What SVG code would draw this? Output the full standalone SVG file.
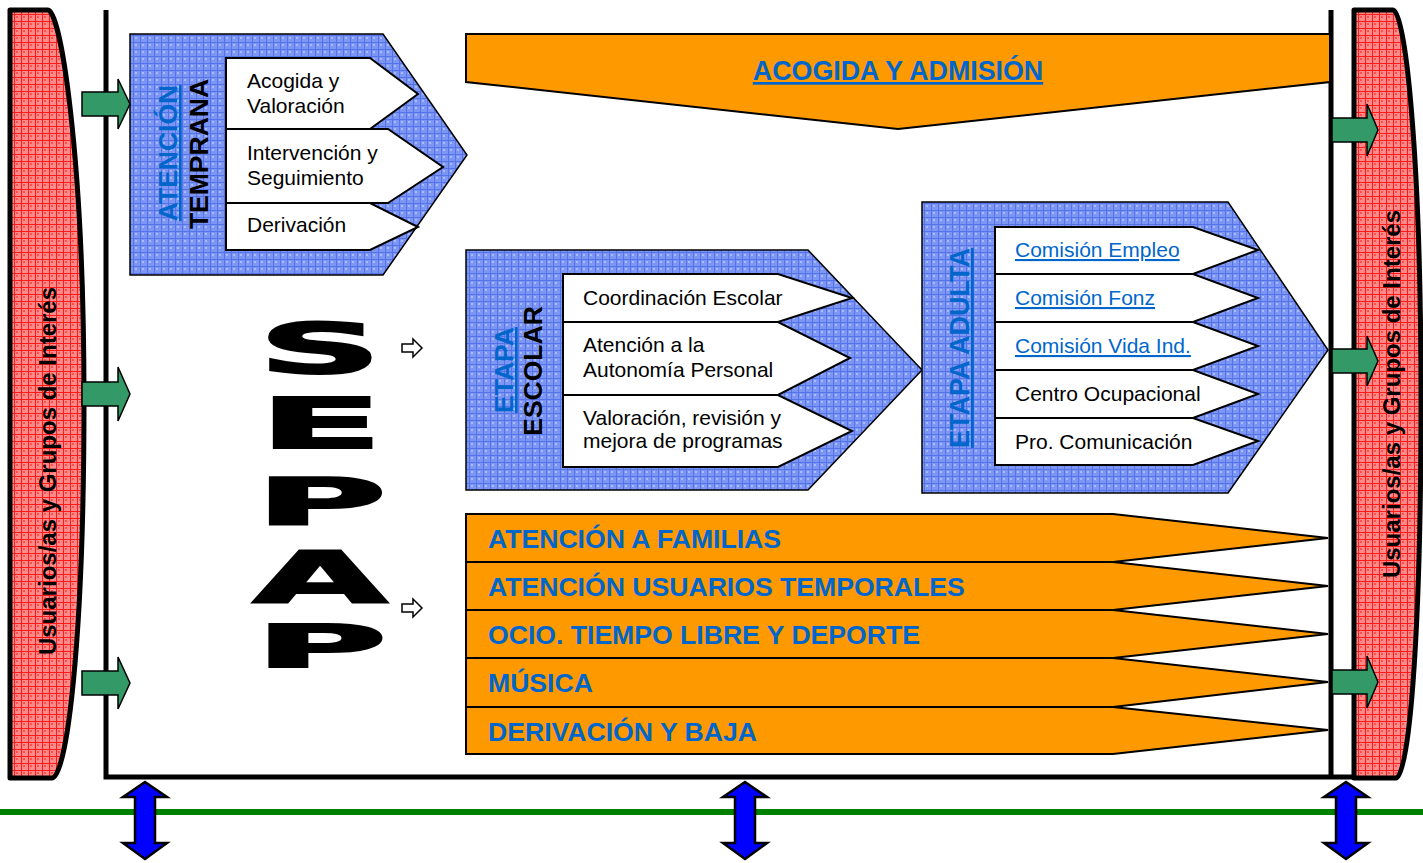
<svg xmlns="http://www.w3.org/2000/svg" width="1423" height="863" viewBox="0 0 1423 863">
<defs>
<pattern id="redpat" width="7" height="7" patternUnits="userSpaceOnUse">
<rect width="7" height="7" fill="#ff8a8a"/>
<rect x="2" y="2" width="2" height="2" fill="#ff5050"/>
<path d="M0 0.5H7M0.5 0V7" stroke="#ff1a1a" stroke-width="1"/>
</pattern>
<pattern id="bluepat" width="7" height="7" patternUnits="userSpaceOnUse">
<rect width="7" height="7" fill="#7d96f3"/>
<rect x="2" y="2" width="2" height="2" fill="#a9bbff"/>
<path d="M0 0.5H7M0.5 0V7" stroke="#5574ea" stroke-width="1"/>
</pattern>
<style>
.red{fill:url(#redpat);stroke:#000;stroke-width:5;stroke-linejoin:round}
.blk{fill:url(#bluepat);stroke:#000;stroke-width:1.5}
.wa{fill:#fff;stroke:#000;stroke-width:2}
.or{fill:#ff9900;stroke:#000;stroke-width:2}
.ga{fill:#339966;stroke:#000;stroke-width:1.5}
.ba{fill:#0000ff;stroke:#000;stroke-width:2.5}
.sa{fill:#fff;stroke:#000;stroke-width:1.5}
.frame{stroke:#000;stroke-width:5;fill:none}
.t{font-family:"Liberation Sans",Arial,sans-serif;font-size:21px;fill:#000}
.lk{font-family:"Liberation Sans",Arial,sans-serif;font-size:21px;fill:#0066cc;text-decoration:underline}
.vt{font-family:"Liberation Sans",Arial,sans-serif;font-size:26.5px;font-weight:bold;text-anchor:middle}
.bb{font-family:"Liberation Sans",Arial,sans-serif;font-size:26.6px;font-weight:bold;fill:#0066cc}
.big{font-family:"DejaVu Sans",sans-serif;font-weight:bold;fill:#000;stroke:#000;stroke-width:2;text-anchor:middle}
</style>
</defs>
<rect width="1423" height="863" fill="#fff"/>

<g id="users-left">
<path class="red" d="M10,10 L48,10 C60,10 84,150 84,400 C84,650 66,778 52,778 L10,778 Z"/>
<text class="vt" transform="translate(56,471) rotate(-90)" style="font-size:24px">Usuarios/as y Grupos de Interés</text>
</g>
<g id="users-right">
<path class="red" d="M1354,10 L1393,10 C1405,10 1421,150 1421,400 C1421,650 1408,778 1396,778 L1354,778 Z"/>
<text class="vt" transform="translate(1400,394) rotate(-90)" style="font-size:24px">Usuarios/as y Grupos de Interés</text>
</g>

<g id="frame">
<path class="frame" d="M106,10 V777 H1356"/>
<path class="frame" d="M1331,10 V777"/>
</g>

<g id="acogida">
<polygon class="or" points="466,34 1330,34 1330,82 898,129 466,82"/>
<text class="bb" x="898" y="80" text-anchor="middle" style="font-size:26.8px;text-decoration:underline">ACOGIDA Y ADMISIÓN</text>
</g>

<g id="atencion-temprana">
<polygon class="blk" points="130,34 383,34 467,155 383,275 130,275"/>
<polygon class="wa" points="226,58 370,58 418,94 370,129 226,129"/>
<polygon class="wa" points="226,129 388,129 443,167 388,203 226,203"/>
<polygon class="wa" points="226,203 370,203 418,227 370,250 226,250"/>
<text class="vt" fill="#0066cc" text-decoration="underline" transform="translate(177,153) rotate(-90)">ATENCIÓN</text>
<text class="vt" fill="#000" transform="translate(208,154) rotate(-90)">TEMPRANA</text>
<text class="t" x="247" y="88">Acogida y</text>
<text class="t" x="247" y="113">Valoración</text>
<text class="t" x="247" y="160">Intervención y</text>
<text class="t" x="247" y="185">Seguimiento</text>
<text class="t" x="247" y="232">Derivación</text>
</g>

<g id="sepap">
<text class="big" transform="translate(320,373) scale(2.45,1)" style="font-size:70px">S</text>
<text class="big" transform="translate(321,448) scale(2.6,1)" style="font-size:70px">E</text>
<text class="big" transform="translate(321,524) scale(2.8,1)" style="font-size:64px">P</text>
<text class="big" transform="translate(320,602) scale(2.45,1)" style="font-size:71px">A</text>
<text class="big" transform="translate(321,667) scale(3.1,1)" style="font-size:58px">P</text>
</g>

<g id="etapa-escolar">
<polygon class="blk" points="466,250 808,250 922,370 808,490 466,490"/>
<polygon class="wa" points="563,274 778,274 852,298 778,322 563,322"/>
<polygon class="wa" points="563,322 778,322 850,358 778,395 563,395"/>
<polygon class="wa" points="563,395 778,395 852,431 778,467 563,467"/>
<text class="vt" fill="#0066cc" text-decoration="underline" transform="translate(513,370) rotate(-90)">ETAPA</text>
<text class="vt" fill="#000" transform="translate(542,371) rotate(-90)">ESCOLAR</text>
<text class="t" x="583" y="305">Coordinación Escolar</text>
<text class="t" x="583" y="352">Atención a la</text>
<text class="t" x="583" y="377">Autonomía Personal</text>
<text class="t" x="583" y="425">Valoración, revisión y</text>
<text class="t" x="583" y="448">mejora de programas</text>
</g>

<g id="etapa-adulta">
<polygon class="blk" points="922,202 1228,202 1328,350 1228,493 922,493"/>
<polygon class="wa" points="995,227 1193,227 1258,250 1193,274 995,274"/>
<polygon class="wa" points="995,274 1193,274 1258,298 1193,322 995,322"/>
<polygon class="wa" points="995,322 1193,322 1258,346 1193,370 995,370"/>
<polygon class="wa" points="995,370 1193,370 1258,394 1193,418 995,418"/>
<polygon class="wa" points="995,418 1193,418 1258,441 1193,465 995,465"/>
<text class="vt" fill="#0066cc" text-decoration="underline" transform="translate(969,348) rotate(-90)" style="font-size:27px">ETAPA ADULTA</text>
<text class="lk" x="1015" y="257">Comisión Empleo</text>
<text class="lk" x="1015" y="305">Comisión Fonz</text>
<text class="lk" x="1015" y="353">Comisión Vida Ind.</text>
<text class="t" x="1015" y="401">Centro Ocupacional</text>
<text class="t" x="1015" y="449">Pro. Comunicación</text>
</g>

<g id="programas">
<polygon class="or" points="466,514 1113,514 1328,538 1113,562 466,562"/>
<polygon class="or" points="466,562 1113,562 1328,586 1113,610 466,610"/>
<polygon class="or" points="466,610 1113,610 1328,634 1113,658 466,658"/>
<polygon class="or" points="466,658 1113,658 1328,682 1113,707 466,707"/>
<polygon class="or" points="466,707 1113,707 1328,730 1113,754 466,754"/>
<text class="bb" x="488" y="548">ATENCIÓN A FAMILIAS</text>
<text class="bb" x="488" y="596">ATENCIÓN USUARIOS TEMPORALES</text>
<text class="bb" x="488" y="644">OCIO. TIEMPO LIBRE Y DEPORTE</text>
<text class="bb" x="488" y="692">MÚSICA</text>
<text class="bb" x="488" y="741">DERIVACIÓN Y BAJA</text>
</g>

<g id="connectors">
<path d="M0,812 H1423" stroke="#008000" stroke-width="6"/>
<polygon class="ga" points="82,92 118,92 118,79 130,104 118,129 118,116 82,116"/>
<polygon class="ga" points="82,382 118,382 118,367 130,394 118,421 118,406 82,406"/>
<polygon class="ga" points="82,671 118,671 118,657 130,683 118,709 118,695 82,695"/>
<polygon class="ga" points="1332,118 1367,118 1367,104 1378,130 1367,156 1367,142 1332,142"/>
<polygon class="ga" points="1332,349 1367,349 1367,336 1378,361 1367,386 1367,373 1332,373"/>
<polygon class="ga" points="1332,670 1367,670 1367,656 1378,682 1367,708 1367,694 1332,694"/>
<polygon class="sa" points="402,344 413,344 413,339 422,348 413,357 413,352 402,352"/>
<polygon class="sa" points="402,604 413,604 413,599 422,608 413,617 413,612 402,612"/>
<polygon class="ba" points="145,782 167,797 155,797 155,843 167,843 145,859 123,843 135,843 135,797 123,797"/>
<polygon class="ba" points="745,782 767,797 755,797 755,843 767,843 745,859 723,843 735,843 735,797 723,797"/>
<polygon class="ba" points="1346,782 1368,797 1356,797 1356,843 1368,843 1346,859 1324,843 1336,843 1336,797 1324,797"/>
</g>
</svg>
